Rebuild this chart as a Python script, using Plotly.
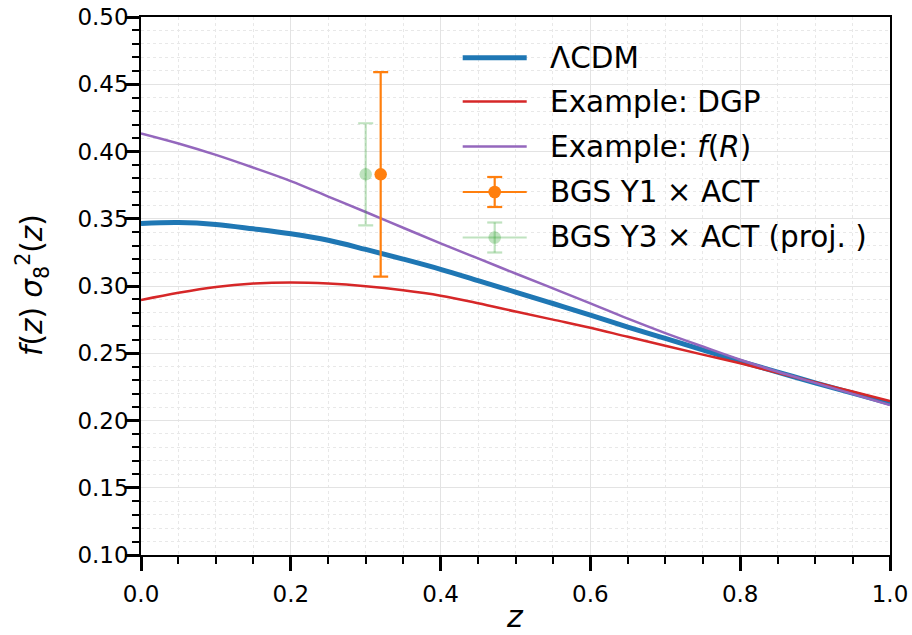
import plotly.graph_objects as go

# Redshift grid and growth-rate curves f(z) sigma_8^2(z)
z = [0.00, 0.05, 0.10, 0.15, 0.20, 0.25, 0.30, 0.35, 0.40, 0.45, 0.50,
     0.55, 0.60, 0.65, 0.70, 0.75, 0.80, 0.85, 0.90, 0.95, 1.00]
lcdm = [0.3465, 0.3472, 0.3458, 0.3425, 0.3388, 0.3340, 0.3272, 0.3200, 0.3124, 0.3040, 0.2955,
        0.2870, 0.2784, 0.2695, 0.2610, 0.2525, 0.2440, 0.2360, 0.2280, 0.2203, 0.2128]
dgp = [0.2896, 0.2950, 0.2993, 0.3018, 0.3026, 0.3018, 0.2998, 0.2968, 0.2928, 0.2872, 0.2810,
       0.2750, 0.2690, 0.2622, 0.2556, 0.2490, 0.2425, 0.2355, 0.2285, 0.2215, 0.2145]
fofr = [0.4135, 0.4060, 0.3975, 0.3880, 0.3780, 0.3665, 0.3550, 0.3433, 0.3317, 0.3205, 0.3093,
        0.2982, 0.2871, 0.2757, 0.2650, 0.2550, 0.2452, 0.2362, 0.2280, 0.2198, 0.2115]

# Measurements
y1_z, y1_val, y1_err = [0.32], [0.383], [0.076]
y3_z, y3_val, y3_err = [0.30], [0.383], [0.038]

# Axis ticks
x_ticks = [0.0, 0.2, 0.4, 0.6, 0.8, 1.0]
x_ticklabels = ["0.0", "0.2", "0.4", "0.6", "0.8", "1.0"]
y_ticks = [0.10, 0.15, 0.20, 0.25, 0.30, 0.35, 0.40, 0.45, 0.50]
y_ticklabels = ["%.2f" % v for v in y_ticks]

BLUE, RED, PURPLE, ORANGE = "#1f77b4", "#d62728", "#9467bd", "#ff7f0e"
GREEN_A = "rgba(44,160,44,0.3)"
FONT = "DejaVu Sans"

W, H = 912, 635
L, R, T, B = 141, 22, 17, 80
PW, PH = W - L - R, H - T - B

fig = go.Figure()
fig.add_trace(go.Scatter(x=z, y=lcdm, mode="lines", line=dict(color=BLUE, width=5, shape="spline"),
                         name="ΛCDM"))
fig.add_trace(go.Scatter(x=z, y=dgp, mode="lines", line=dict(color=RED, width=2.5, shape="spline"),
                         name="Example: DGP"))
fig.add_trace(go.Scatter(x=z, y=fofr, mode="lines", line=dict(color=PURPLE, width=2.5, shape="spline"),
                         name="Example: f(R)"))
fig.add_trace(go.Scatter(x=y1_z, y=y1_val, mode="markers",
                         marker=dict(color=ORANGE, size=12.5),
                         error_y=dict(type="data", array=y1_err, visible=True, color=ORANGE,
                                      thickness=2.2, width=7.5),
                         name="BGS Y1 × ACT"))
fig.add_trace(go.Scatter(x=y3_z, y=y3_val, mode="markers",
                         marker=dict(color=GREEN_A, size=12.5),
                         error_y=dict(type="data", array=y3_err, visible=True, color=GREEN_A,
                                      thickness=2.2, width=7.5),
                         name="BGS Y3 × ACT (proj. )"))


def px_x(p):
    return (p - L) / PW


def px_y(p):
    return (H - B - p) / PH


# Hand-built legend (no frame), symbols as shapes and labels as annotations
shapes = []
annotations = []
leg_x0, leg_x1, leg_xc, text_x = 462.7, 526.7, 494.7, 548
rows = [
    ("ΛCDM", 57.7, BLUE, 5, None),
    ("Example: DGP", 101.5, RED, 2.5, None),
    ("Example: <i>f</i>(<i>R</i>)", 146.5, PURPLE, 2.5, None),
    ("BGS Y1 × ACT", 192.0, ORANGE, 2.2, "err"),
    ("BGS Y3 × ACT (proj. )", 237.5, GREEN_A, 2.2, "err"),
]
for label, py, col, lw, kind in rows:
    shapes.append(dict(type="line", xref="paper", yref="paper", x0=px_x(leg_x0), x1=px_x(leg_x1),
                       y0=px_y(py), y1=px_y(py), line=dict(color=col, width=lw)))
    if kind == "err":
        shapes.append(dict(type="line", xref="paper", yref="paper", x0=px_x(leg_xc), x1=px_x(leg_xc),
                           y0=px_y(py - 15), y1=px_y(py + 15), line=dict(color=col, width=2.2)))
        for dy in (-15, 15):
            shapes.append(dict(type="line", xref="paper", yref="paper",
                               x0=px_x(leg_xc - 7.5), x1=px_x(leg_xc + 7.5),
                               y0=px_y(py + dy), y1=px_y(py + dy), line=dict(color=col, width=2.2)))
        shapes.append(dict(type="circle", xref="paper", yref="paper", xsizemode="pixel", ysizemode="pixel",
                           xanchor=px_x(leg_xc), yanchor=px_y(py), x0=-6.3, x1=6.3, y0=-6.3, y1=6.3,
                           fillcolor=col, line=dict(width=0)))
    annotations.append(dict(text=label, xref="paper", yref="paper", x=px_x(text_x), y=px_y(py),
                            xanchor="left", yanchor="middle", showarrow=False,
                            font=dict(family=FONT, size=29.5, color="black")))

# Axis titles
annotations.append(dict(text="<i>z</i>", xref="paper", yref="paper", x=px_x(515), y=px_y(635),
                        xanchor="center", yanchor="bottom", showarrow=False, borderpad=0,
                        font=dict(family=FONT, size=30, color="black")))
annotations.append(dict(text="<i>f</i>(<i>z</i>) <i>σ</i><sub>8</sub><sup>2</sup>(<i>z</i>)",
                        xref="paper", yref="paper", x=px_x(32), y=px_y(285), textangle=-90,
                        xanchor="center", yanchor="middle", showarrow=False,
                        font=dict(family=FONT, size=29.5, color="black")))

axis_common = dict(
    showline=True, linecolor="black", linewidth=1.5, mirror=True, automargin=False,
    ticks="outside", ticklen=14, tickwidth=2.8, tickcolor="black",
    showgrid=True, gridcolor="#e3e3e3", gridwidth=1.3, zeroline=False,
    tickfont=dict(family=FONT, size=23, color="black"),
)

fig.update_xaxes(range=[0, 1], tickvals=x_ticks, ticktext=x_ticklabels, ticklabelstandoff=4,
                 minor=dict(dtick=0.05, ticks="outside", ticklen=7, tickwidth=1.8, tickcolor="black",
                            showgrid=True, gridcolor="#e8e8e8", gridwidth=1, griddash="dot"),
                 **axis_common)
fig.update_yaxes(range=[0.1, 0.5], tickvals=y_ticks, ticktext=y_ticklabels, ticklabelstandoff=-8,
                 minor=dict(dtick=0.01, ticks="outside", ticklen=7, tickwidth=1.8, tickcolor="black",
                            showgrid=True, gridcolor="#e8e8e8", gridwidth=1, griddash="dot"),
                 **axis_common)

fig.update_layout(
    width=W, height=H, margin=dict(l=L, r=R, t=T, b=B, autoexpand=False),
    paper_bgcolor="white", plot_bgcolor="white",
    showlegend=False, shapes=shapes, annotations=annotations,
    font=dict(family=FONT, color="black"),
)

fig.write_html("out.html")
